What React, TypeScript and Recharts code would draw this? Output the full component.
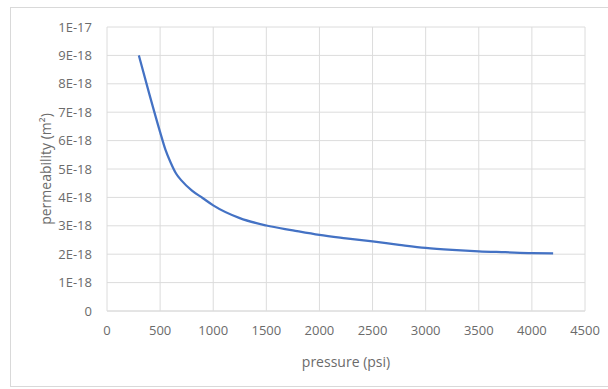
import React from "react";
import { LineChart, Line, XAxis, YAxis, CartesianGrid, Label } from "recharts";

const pressure = [300, 400, 500, 550, 600, 650, 700, 800, 900, 1000, 1250, 1500, 1750, 2000, 2250, 2500, 2750, 3000, 3250, 3500, 3750, 4000, 4200];
const permeability = [
  9.0e-18, 7.62e-18, 6.3e-18, 5.68e-18, 5.22e-18, 4.84e-18, 4.6e-18, 4.24e-18, 3.98e-18, 3.72e-18,
  3.27e-18, 3.01e-18, 2.84e-18, 2.68e-18, 2.56e-18, 2.45e-18, 2.33e-18, 2.22e-18, 2.15e-18, 2.1e-18,
  2.07e-18, 2.04e-18, 2.03e-18,
];
const xTicks = [0, 500, 1000, 1500, 2000, 2500, 3000, 3500, 4000, 4500];
const yTicks = [0, 1e-18, 2e-18, 3e-18, 4e-18, 5e-18, 6e-18, 7e-18, 8e-18, 9e-18, 1e-17];

const data = pressure.map((p, i) => ({ p, k: permeability[i] }));

const fmtY = (v: number) => (v === 0 ? "0" : v.toExponential(0).toUpperCase());

const FONT = "'Open Sans', sans-serif";
const TXT = "#6b6b6b";
const GRID = "#dcdcdc";

export default function App() {
  return (
    <div style={{ position: "absolute", left: 0, top: 0, width: 608, height: 389, background: "#fff", fontFamily: FONT }}>
      <div
        style={{
          position: "absolute",
          left: 10,
          top: 7,
          width: 610,
          height: 380,
          border: "1px solid #d9d9d9",
          boxSizing: "border-box",
        }}
      />
      <div style={{ position: "absolute", left: 0, top: 0 }}>
        <LineChart width={608} height={389} data={data} margin={{ top: 27, right: 23, bottom: 18, left: 0 }}>
          <CartesianGrid stroke={GRID} strokeWidth={1} horizontalValues={yTicks} verticalValues={xTicks} />
          <XAxis
            dataKey="p"
            type="number"
            domain={[0, 4500]}
            ticks={xTicks}
            height={60}
            axisLine={{ stroke: GRID }}
            tickLine={false}
            tickSize={0}
            tickMargin={15}
            tick={{ fill: TXT, fontSize: 13, fontFamily: FONT }}
          >
            <Label value="pressure (psi)" position="insideBottom" offset={4} fill={TXT} fontSize={14} fontFamily={FONT} />
          </XAxis>
          <YAxis
            type="number"
            domain={[0, 1e-17]}
            ticks={yTicks}
            tickFormatter={fmtY}
            width={107}
            axisLine={false}
            tickLine={false}
            tickSize={0}
            tickMargin={15}
            tick={{ fill: TXT, fontSize: 13, fontFamily: FONT }}
          >
            <Label
              value="permeability (m²)"
              position="center"
              angle={-90}
              dx={-7}
              fill={TXT}
              fontSize={14}
              fontFamily={FONT}
            />
          </YAxis>
          <Line
            dataKey="k"
            type="monotone"
            stroke="#4472c4"
            strokeWidth={2.25}
            dot={false}
            isAnimationActive={false}
          />
        </LineChart>
      </div>
    </div>
  );
}
